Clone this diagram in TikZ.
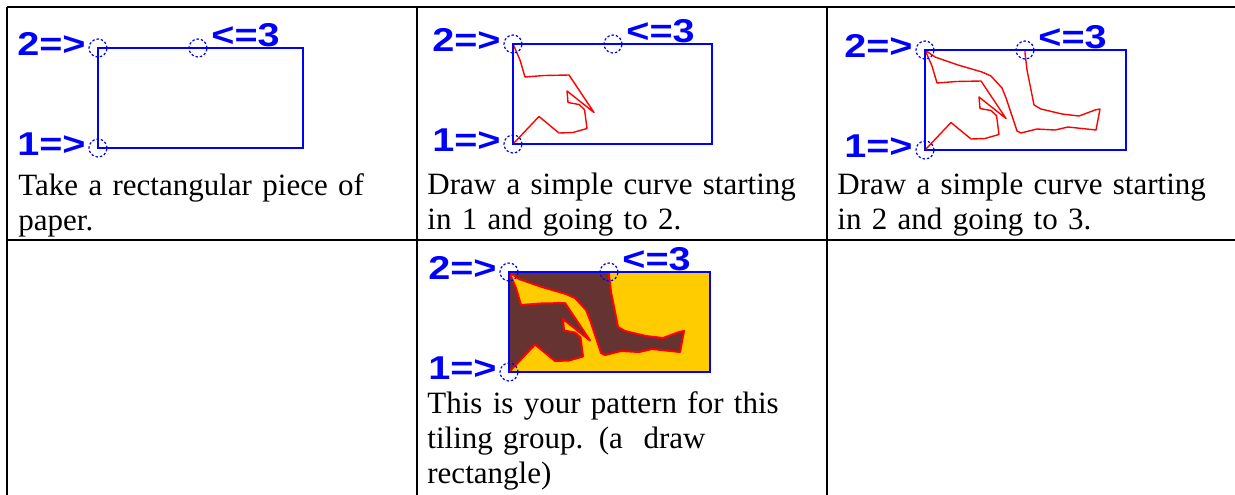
\documentclass[tikz,border=0pt]{standalone}
\usepackage{fontspec,graphicx}
\setmainfont{Liberation Serif}
\newfontfamily\arialfont{Liberation Sans}
\usetikzlibrary{positioning}
\definecolor{markblue}{RGB}{0,0,255}
\definecolor{tilebrown}{RGB}{102,51,51}
\definecolor{tileyellow}{RGB}{255,204,0}
% curves measured from corner 1, y pointing up
\newcommand\curveone{(0,0) -- (26,27.5) -- (46,11) -- (60,11.5) -- (74,15.5) -- (71.5,34.5) -- (66,39.5) -- (55,41.5) -- (54,53) -- (81,31.5) -- (56,69) -- (31,68.5) -- (12,67) -- (7,84) -- (0,100)}
\newcommand\curvetwo{(0,100) -- (10,93) -- (33,85) -- (57,78) -- (66,74) -- (77,62) -- (81,52) -- (92,19) -- (96,17) -- (112,21) -- (130,20) -- (143,23) -- (171,20) -- (175,41) -- (170,40) -- (154,34) -- (137,36) -- (116,41) -- (109,45) -- (106,60) -- (102,80) -- (100,97) -- (100,100)}

\begin{document}
\begin{tikzpicture}[x=0.5pt,y=-0.5pt,rule/.style={line width=1pt,black},paper/.style={draw=markblue,line width=0.6pt},hole/.style={circle,draw=markblue,line width=0.6pt,dash pattern=on 1.2pt off 1pt,minimum size=9pt,inner sep=0pt},tag/.style={text=markblue,font=\arialfont\bfseries\fontsize{16.5}{18}\selectfont,inner sep=0pt},caption/.style={anchor=base west,align=left,text width=200pt,inner sep=0pt,font=\fontsize{15.5}{17.5}\selectfont},redline/.style={draw=red,line width=0.7pt,line join=round}]
\clip (0,0) rectangle (1235,494);
% table rules
\draw[rule] (7,7) -- (1240,7) (7,240) -- (1240,240) (7,7) -- (7,500) (417,7) -- (417,500) (827,7) -- (827,500);
% curves of steps 2, 3 and the filled pattern
\begin{scope}[shift={(513,144)},yscale=-1]
\draw[redline] \curveone;
\end{scope}
\begin{scope}[shift={(925,150)},yscale=-1]
\draw[redline] \curveone \curvetwo;
\end{scope}
\begin{scope}[shift={(509,372)},yscale=-1]
\fill[tileyellow] (0,0) rectangle (201,100);
\fill[tilebrown,even odd rule] \curveone -- cycle \curvetwo -- cycle;
\draw[redline,line width=1pt] \curveone \curvetwo;
\end{scope}
% paper, corners and labels
\foreach \c/\x/\y/\w in {1/98/48/205,2/513/44/199,3/925/50/201,4/509/272/201}{
\draw[paper] (\x,\y) rectangle ++(\w,100);
\node[hole] (one\c) at (\x,\y+100) {};
\node[hole] (two\c) at (\x,\y) {};
\node[hole] (three\c) at (\x+100,\y) {};
\node[tag,anchor=base east,xshift=-6pt,yshift=-3.5pt] (lone\c) at (one\c) {\scalebox{1.2}[1]{1=>}};
\node[tag,anchor=base east,xshift=-6pt,yshift=-3.5pt] (ltwo\c) at (two\c) {\scalebox{1.2}[1]{2=>}};
\node[tag,anchor=base west,xshift=6.5pt,yshift=1pt] (lthree\c) at (three\c) {\scalebox{1.2}[1]{<=3}};
}
\node[caption] (cap1) at (18,195) {Take a rectangular piece of\\paper.};
\node[caption] (cap2) at (427,194) {Draw a simple curve starting\\in 1 and going to 2.};
\node[caption] (cap3) at (837,194) {Draw a simple curve starting\\in 2 and going to 3.};
\node[caption] (cap4) at (427,413) {This is your pattern for this\\tiling group. (a\ \ draw\\rectangle)};
\end{tikzpicture}
\end{document}
